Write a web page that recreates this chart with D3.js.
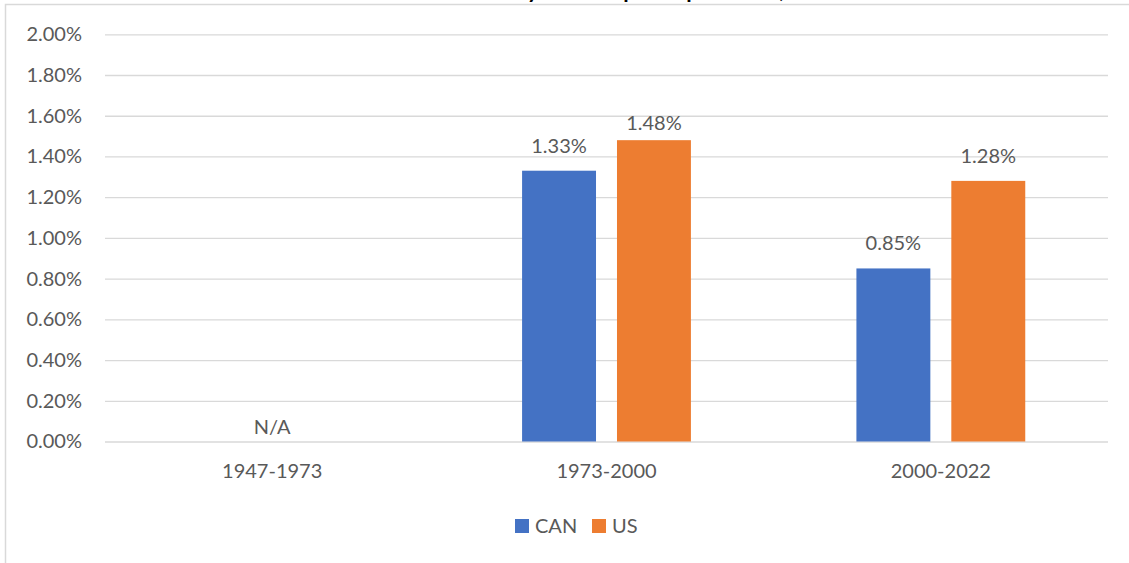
<!DOCTYPE html>
<html>
<head>
<meta charset="utf-8">
<script src="https://cdn.jsdelivr.net/npm/d3@7"></script>
<style>
  html, body { margin: 0; padding: 0; background: #ffffff; overflow: hidden; }
  svg { display: block; font-family: Lato, "Open Sans", sans-serif; }
</style>
</head>
<body>
<svg id="chart" width="1129" height="563"></svg>
<script>
// Average annual growth by period
const periods = ["1947-1973", "1973-2000", "2000-2022"];
const seriesNames = ["CAN", "US"];
const canValues = [null, 0.0133, 0.0085];
const usValues = [null, 0.0148, 0.0128];
const yTicks = [0, 0.002, 0.004, 0.006, 0.008, 0.010, 0.012, 0.014, 0.016, 0.018, 0.020];
const missingLabel = "N/A";
const titleText = "Annual Productivity Growth per Capita Basis, CAN vs US";

const colors = { CAN: "#4472C4", US: "#ED7D31" };
const textColor = "#595959";
const gridColor = "#D9D9D9";

const svg = d3.select("#chart");
const W = 1129, H = 563;
const plot = { left: 105, right: 1108, top: 34.3, bottom: 441.5 };

// chart frame
svg.append("rect")
  .attr("x", 5.5).attr("y", 4.5)
  .attr("width", W + 20).attr("height", H + 20)
  .attr("fill", "#fff")
  .attr("stroke", gridColor).attr("stroke-width", 1.5);

// title (mostly above the frame)
const title = svg.append("text")
  .attr("y", -2)
  .attr("font-size", 22)
  .attr("font-weight", 700)
  .attr("fill", "#000")
  .text(titleText);
const yIdx = titleText.indexOf("Productivity") + "Productivit".length;
const prefixW = title.node().getSubStringLength(0, yIdx);
title.attr("x", 527 - prefixW);

const y = d3.scaleLinear().domain([0, 0.02]).range([plot.bottom, plot.top]);
const x0 = d3.scaleBand().domain(periods).range([plot.left, plot.right])
  .paddingInner(0.495).paddingOuter(0.2475);
const x1 = d3.scaleBand().domain(seriesNames).range([0, x0.bandwidth()])
  .paddingInner(0.221).paddingOuter(0);

// gridlines and y axis labels
const yAxis = d3.axisLeft(y)
  .tickValues(yTicks)
  .tickSize(-(plot.right - plot.left))
  .tickPadding(23)
  .tickFormat(d3.format(".2%"));
const gy = svg.append("g")
  .attr("transform", `translate(${plot.left},0)`)
  .call(yAxis);
gy.select(".domain").remove();
gy.selectAll(".tick line").attr("stroke", gridColor).attr("stroke-width", 1.3);
gy.selectAll(".tick text")
  .attr("fill", textColor)
  .attr("font-size", 20)
  .attr("font-family", "Lato, sans-serif");

// category labels
const xAxis = d3.axisBottom(x0).tickSize(0).tickPadding(22);
const gx = svg.append("g")
  .attr("transform", `translate(0,${plot.bottom})`)
  .call(xAxis);
gx.select(".domain").remove();
gx.selectAll(".tick text")
  .attr("fill", textColor)
  .attr("font-size", 20)
  .attr("font-family", "Lato, sans-serif");

// bars
const rows = periods.map((p, i) => ({
  period: p,
  values: [
    { key: "CAN", value: canValues[i] },
    { key: "US", value: usValues[i] }
  ]
}));

const groups = svg.append("g").selectAll("g")
  .data(rows)
  .join("g")
  .attr("transform", d => `translate(${x0(d.period)},0)`);

groups.selectAll("rect")
  .data(d => d.values.filter(v => v.value !== null))
  .join("rect")
  .attr("x", d => x1(d.key))
  .attr("width", x1.bandwidth())
  .attr("y", d => y(d.value))
  .attr("height", d => y(0) - y(d.value))
  .attr("fill", d => colors[d.key]);

// value labels; one label sits a little lower
const labelGap = 18;
const labelNudge = { "1973-2000|US": 8 };
groups.each(function(row) {
  const g = d3.select(this);
  row.values.filter(v => v.value !== null).forEach(v => {
    const nudge = labelNudge[row.period + "|" + v.key] || 0;
    g.append("text")
      .attr("x", x1(v.key) + x1.bandwidth() / 2)
      .attr("y", y(v.value) - labelGap + nudge)
      .attr("text-anchor", "middle")
      .attr("fill", textColor)
      .attr("font-size", 20)
      .text(d3.format(".2%")(v.value));
  });
});

// missing-data label
rows.filter(r => r.values.every(v => v.value === null)).forEach(r => {
  svg.append("text")
    .attr("x", x0(r.period) + x0.bandwidth() / 2)
    .attr("y", plot.bottom - 8)
    .attr("text-anchor", "middle")
    .attr("fill", textColor)
    .attr("font-size", 20)
    .text(missingLabel);
});

// legend
const legend = svg.append("g").attr("transform", "translate(0,526)");
const legendItems = [
  { key: "CAN", x: 515 },
  { key: "US", x: 592 }
];
legendItems.forEach(it => {
  legend.append("rect")
    .attr("x", it.x).attr("y", -7)
    .attr("width", 14).attr("height", 14)
    .attr("fill", colors[it.key]);
  legend.append("text")
    .attr("x", it.x + 20).attr("y", 0)
    .attr("dy", "0.35em")
    .attr("fill", textColor)
    .attr("font-size", 20)
    .text(it.key);
});
</script>
</body>
</html>
